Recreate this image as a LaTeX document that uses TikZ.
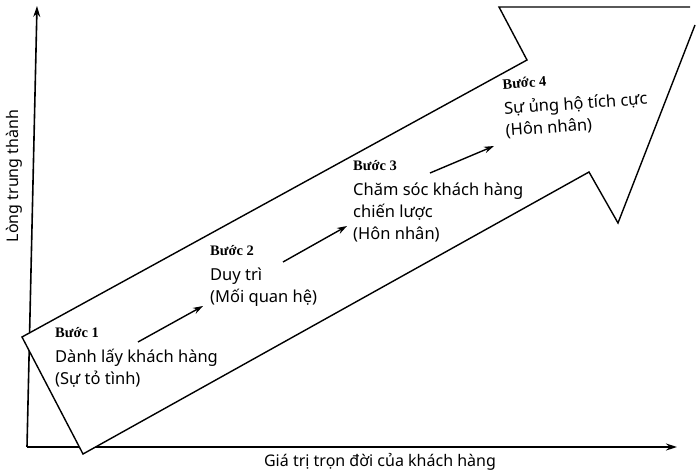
\documentclass[tikz,border=0pt]{standalone}
\usepackage{fontspec}
\setmainfont{Noto Sans}
\newfontfamily\stepfont{Liberation Serif}
\usetikzlibrary{arrows.meta}

\tikzset{
  axisline/.style={line width=1.6pt, -{Stealth[length=11pt,width=7pt]}},
  bigarrow/.style={line width=1.4pt, fill=white, line join=miter},
  stepline/.style={line width=1.4pt, -{Stealth[length=10pt,width=6.5pt]}},
  steptext/.style={anchor=north west, inner sep=0pt, align=left, font=\fontsize{16.5}{22}\selectfont},
  axislabel/.style={inner sep=0pt, font=\fontsize{16}{18}\selectfont}
}
\newcommand{\buoc}[1]{{\stepfont\bfseries\fontsize{14.5}{22}\selectfont Bước #1}\\[3pt]}

\begin{document}
\begin{tikzpicture}[x=1pt, y=-1pt]
  \useasboundingbox (0,0) rectangle (696,476);
  % axes
  \coordinate (o) at (27,447);
  \coordinate (ytop) at (37,6);
  \coordinate (xend) at (677,447);
  \draw[axisline] (o) -- (ytop);
  \draw[axisline] (o) -- (xend);
  % axis labels
  \node[axislabel, rotate=90] (ylab) at (14,176) {Lòng trung thành};
  \node[axislabel, anchor=base] (xlab) at (380,466) {Giá trị trọn đời của khách hàng};
  % big arrow
  \draw[bigarrow] (695,25) -- (618,223) -- (589,172) -- (83,454) -- (22,337)
    -- (527,60) -- (499,7) -- (690,7);
  % steps
  \node[steptext] (s1) at (55,327) {\buoc{1}Dành lấy khách hàng\\(Sự tỏ tình)};
  \node[steptext] (s2) at (210,245) {\buoc{2}Duy trì\\(Mối quan hệ)};
  \node[steptext] (s3) at (353,160) {\buoc{3}Chăm sóc khách hàng\\chiến lược\\(Hôn nhân)};
  \node[steptext, rotate=4] (s4) at (502,79) {\buoc{4}Sự ủng hộ tích cực\\(Hôn nhân)};
  % step arrows
  \coordinate (a1) at (138,342);
  \coordinate (b1) at (203,306);
  \coordinate (a2) at (283,262);
  \coordinate (b2) at (347,226);
  \coordinate (a3) at (430,173);
  \coordinate (b3) at (494,146);
  \draw[stepline] (a1) -- (b1);
  \draw[stepline] (a2) -- (b2);
  \draw[stepline] (a3) -- (b3);
\end{tikzpicture}
\end{document}
